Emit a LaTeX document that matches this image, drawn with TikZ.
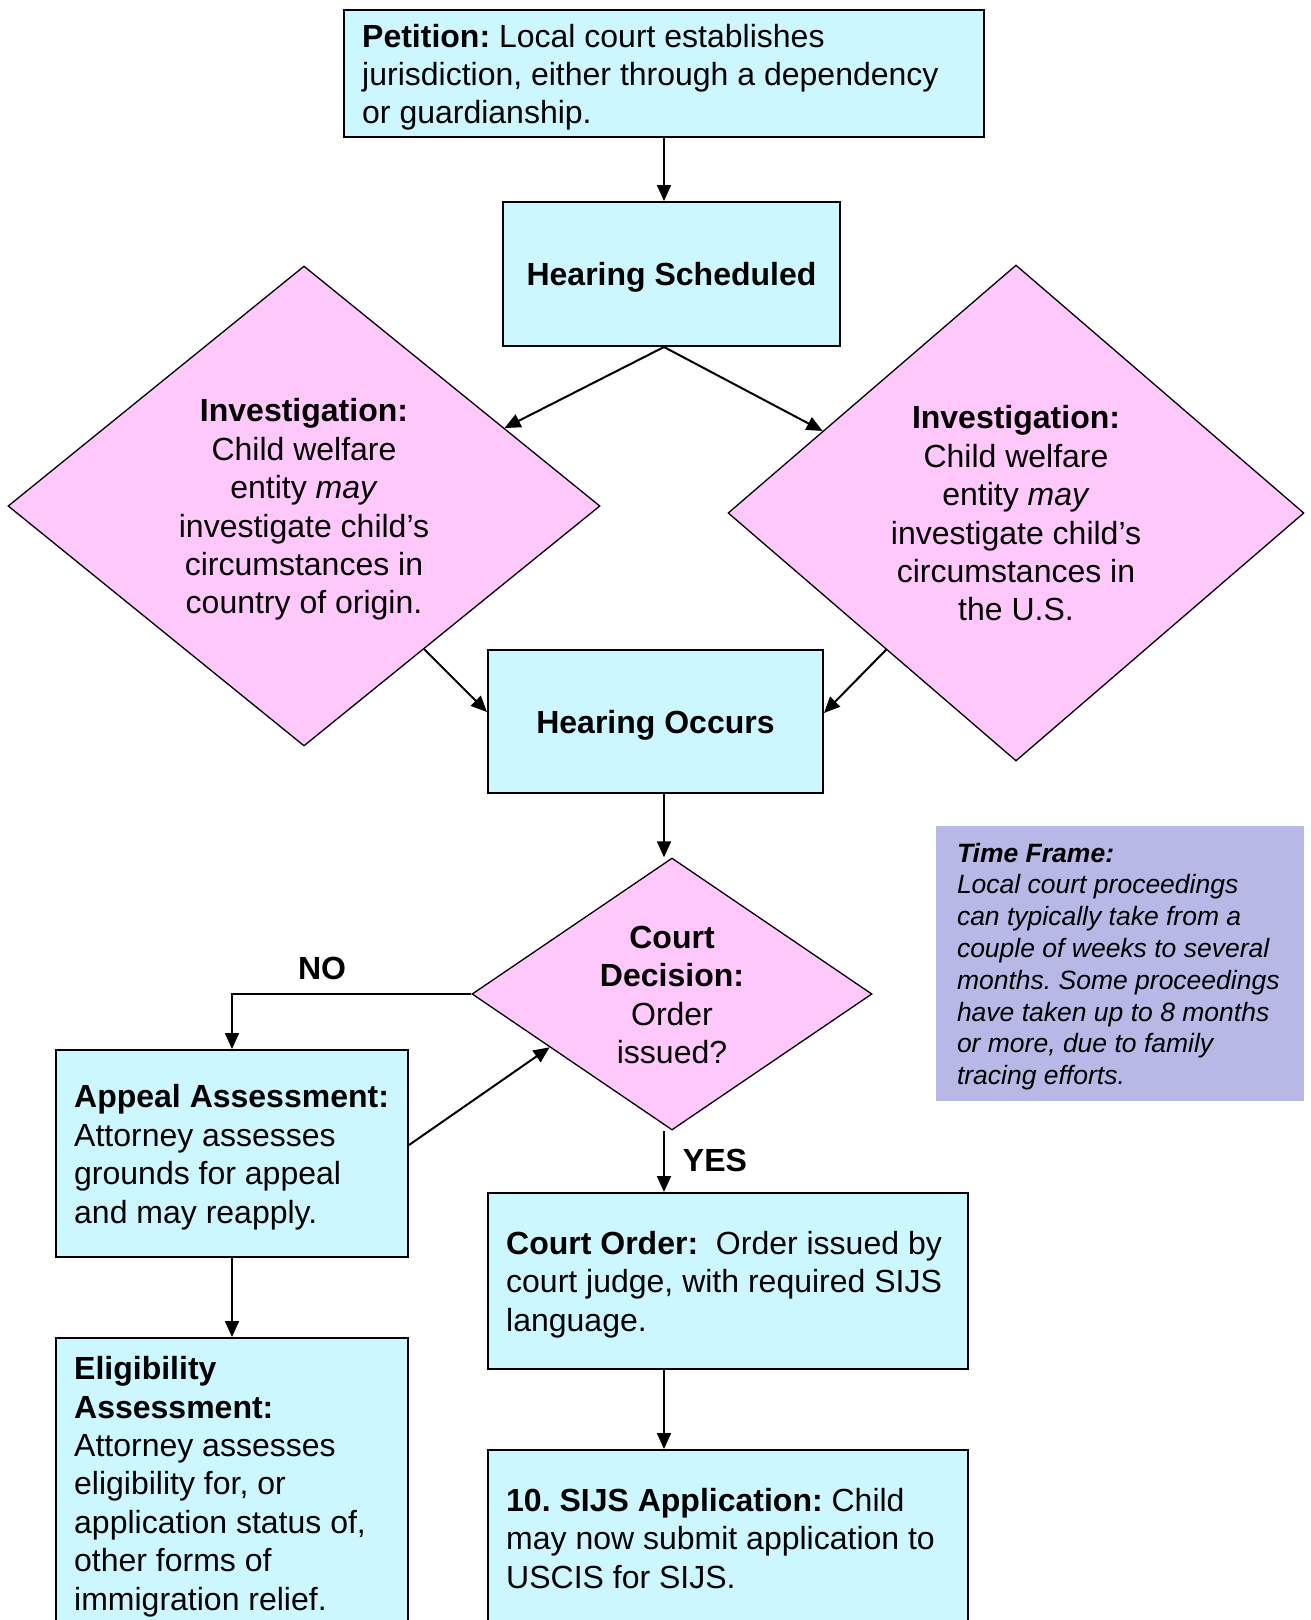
\documentclass[tikz,border=0pt]{standalone}
\usepackage{fontspec}
\setmainfont{Liberation Sans}
\usetikzlibrary{shapes.geometric,arrows.meta,calc}
\definecolor{boxfill}{RGB}{204,247,255}
\definecolor{diafill}{RGB}{255,200,250}
\definecolor{tffill}{RGB}{184,184,230}
\newcommand\sst{\rule[-7.3pt]{0pt}{38.4pt}}
\newcommand\tst{\rule[-6pt]{0pt}{31.8pt}}
\frenchspacing
\begin{document}
\begin{tikzpicture}[x=1pt,y=-1pt,
  box/.style={draw=black, line width=2pt, fill=boxfill, rectangle, inner sep=0pt},
  txt/.style={inner sep=0pt, align=left, anchor=west, font=\fontsize{32}{38.4}\selectfont\frenchspacing},
  ctxt/.style={font=\fontsize{32}{38.4}\selectfont\bfseries},
  dia/.style={draw=black, line width=1.3pt, fill=diafill, diamond, inner sep=0pt, align=center, font=\fontsize{32}{38.4}\selectfont\frenchspacing},
  arr/.style={line width=2pt, -{Triangle[length=16pt,width=14pt]}},
  lbl/.style={font=\fontsize{32}{38.4}\selectfont\bfseries}
]
\useasboundingbox (0,0) rectangle (1310,1620);
\clip (0,0) rectangle (1310,1620);

% boxes
\node[box, minimum width=640pt, minimum height=127pt] (pet) at (664,73.5) {};
\node[txt] (pett) at ([xshift=19pt]pet.west) {\sst\textbf{Petition:} Local court establishes\\jurisdiction, either through a dependency\\or guardianship.\sst};

\node[box, ctxt, minimum width=337pt, minimum height=144pt] (hs) at (671.5,274) {\sst Hearing Scheduled};

\node[dia, shape aspect=1.233, minimum width=592pt, minimum height=480pt] (ldiam) at (304,506)
  {\sst\textbf{Investigation:}\\Child welfare\\entity \textit{may}\\investigate child’s\\circumstances in\\country of origin.\sst};
\node[dia, shape aspect=1.161, minimum width=576pt, minimum height=496pt] (rdiam) at (1016,513)
  {\sst\textbf{Investigation:}\\Child welfare\\entity \textit{may}\\investigate child’s\\circumstances in\\the U.S.\sst};

\node[box, ctxt, minimum width=335pt, minimum height=143pt] (ho) at (655.5,721.5) {\sst Hearing Occurs};

\node[dia, shape aspect=1.47, minimum width=400pt, minimum height=272pt] (cd) at (672,994)
  {\sst\textbf{Court}\\\textbf{Decision:}\\Order\\issued?\sst};

\node[fill=tffill, minimum width=368pt, minimum height=275pt, inner sep=0pt] (tf) at (1120,963.5) {};
\node[txt, font=\fontsize{26.5}{31.8}\selectfont\itshape\frenchspacing] (tft) at ([xshift=21pt]tf.west)
  {\tst\textbf{Time Frame:}\\Local court proceedings\\can typically take from a\\couple of weeks to several\\months. Some proceedings\\have taken up to 8 months\\or more, due to family\\tracing efforts.\tst};

\node[box, minimum width=352pt, minimum height=207pt] (ap) at (232,1153.5) {};
\node[txt] (apt) at ([xshift=19pt]ap.west) {\sst\textbf{Appeal Assessment:}\\Attorney assesses\\grounds for appeal\\and may reapply.\sst};

\node[box, minimum width=352pt, minimum height=290pt] (el) at (232,1483) {};
\node[txt] (elt) at ([xshift=19pt]el.west) {\sst\textbf{Eligibility}\\\textbf{Assessment:}\\Attorney assesses\\eligibility for, or\\application status of,\\other forms of\\immigration relief.\sst};

\node[box, minimum width=480pt, minimum height=176pt] (co) at (728,1281) {};
\node[txt] (cot) at ([xshift=19pt]co.west) {\sst\textbf{Court Order:}\ \ Order issued by\\court judge, with required SIJS\\language.\sst};

\node[box, minimum width=480pt, minimum height=176pt] (sijs) at (728,1538) {};
\node[txt] (sijst) at ([xshift=19pt]sijs.west) {\sst\textbf{10. SIJS Application:} Child\\may now submit application to\\USCIS for SIJS.\sst};

% labels
\node[lbl] (no) at (322,968) {NO};
\node[lbl] (yes) at (715,1160) {YES};

% connectors
\coordinate (hsout) at (pet.south |- hs.south);
\draw[arr] (pet.south) -- (pet.south |- hs.north);
\draw[arr] (hsout) -- ($(ldiam.north)!0.676!(ldiam.east)$);
\draw[arr] (hsout) -- ($(rdiam.north)!0.67!(rdiam.west)$);
\draw[arr] ($(ldiam.east)!0.595!(ldiam.south)$) -- ([yshift=9.5pt]ho.west);
\draw[arr] ($(rdiam.west)!0.55!(rdiam.south)$) -- ([yshift=8.5pt]ho.east);
\draw[arr] (ho.south -| hsout) -- (cd.north -| hsout);
\draw[arr] (cd.west) -| (ap.north);
\draw[arr] ([yshift=8.5pt]ap.east) -- ($(cd.west)!0.39!(cd.south)$);
\draw[arr] (cd.south -| hsout) -- (co.north -| hsout);
\draw[arr] (co.south -| hsout) -- (sijs.north -| hsout);
\draw[arr] (ap.south) -- (el.north);
\end{tikzpicture}
\end{document}
